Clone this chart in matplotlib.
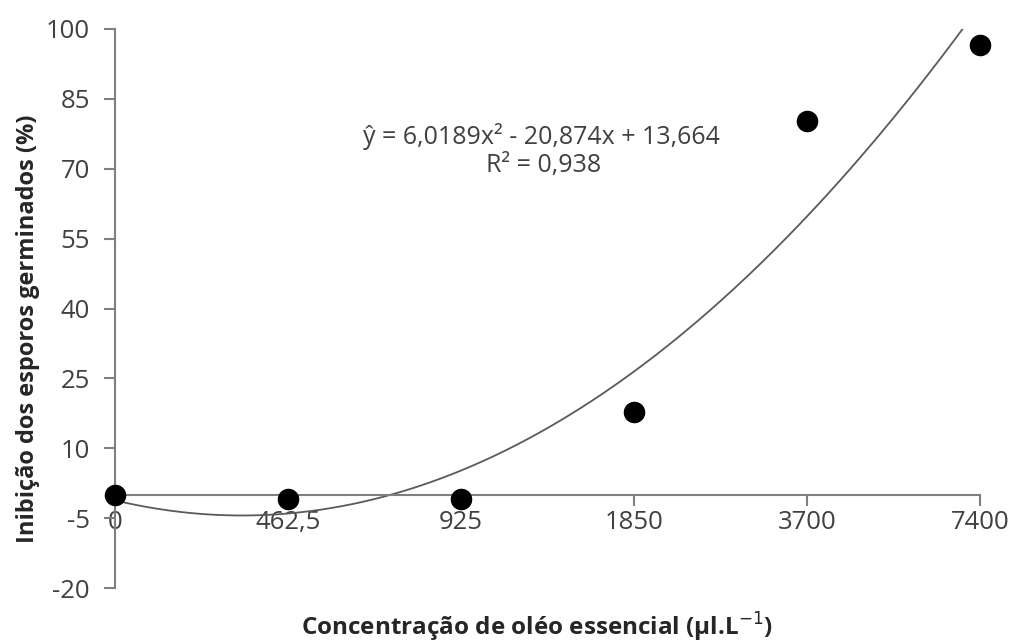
import numpy as np
import matplotlib
matplotlib.use("Agg")
import matplotlib.pyplot as plt

plt.rcParams['font.family'] = ['Open Sans', 'DejaVu Sans']

# Concentration levels (categorical axis) and mean inhibition of germinated spores
concentrations = ["0", "462,5", "925", "1850", "3700", "7400"]
inhibition = [0.0, -1.0, -1.0, 17.8, 80.3, 96.6]

# Quadratic trendline coefficients (x = category index 1..6)
coef_a, coef_b, coef_c = 6.0189, -20.874, 13.664
r_squared_label = "R² = 0,938"
equation_label = "ŷ = 6,0189x² - 20,874x + 13,664"

y_ticks = [-20, -5, 10, 25, 40, 55, 70, 85, 100]

W, H = 1013, 643
fig = plt.figure(figsize=(W / 100, H / 100), dpi=100)
ax = fig.add_axes([115 / W, 1 - 588 / H, (980 - 115) / W, (588 - 29) / H])

xpos = np.arange(1, len(concentrations) + 1)

# trendline
xs = np.linspace(1, 6, 400)
ys = coef_a * xs ** 2 + coef_b * xs + coef_c
ax.plot(xs, ys, color="#5a5a5a", lw=1.3, zorder=2)

# observed means
ax.plot(xpos, inhibition, "o", color="black", ms=14.5, zorder=3, clip_on=False)

ax.set_xlim(1, 6)
ax.set_ylim(-20, 100)
ax.set_yticks(y_ticks)
ax.set_yticklabels([str(v) for v in y_ticks])

# x axis drawn at y = 0
for s in ("top", "right"):
    ax.spines[s].set_visible(False)
ax.spines["bottom"].set_position(("data", 0))
axis_color = "#7f7f7f"
for s in ("left", "bottom"):
    ax.spines[s].set_color(axis_color)
    ax.spines[s].set_linewidth(1.5)

ax.set_xticks(xpos)
ax.set_xticklabels(concentrations)
ax.tick_params(axis="both", direction="out", length=8, width=1.5, color=axis_color,
               labelsize=18.5, labelcolor="#404040")
ax.tick_params(axis="y", pad=10)
ax.tick_params(axis="x", pad=3)

fig.text(541 / W, 1 - 136 / H, equation_label, ha="center", va="center",
         fontsize=18, color="#404040")
fig.text(544 / W, 1 - 166 / H, r_squared_label, ha="center", va="center",
         fontsize=18, color="#404040")

fig.text(537 / W, 1 - 627 / H, "Concentração de oléo essencial (μl.L$^{-1}$)",
         ha="center", va="center", fontsize=17.5, fontweight="bold", color="#262626")
fig.text(28 / W, 1 - 329 / H, "Inibição dos esporos germinados (%)",
         ha="center", va="center", rotation=90, fontsize=17, fontweight="bold",
         color="#262626")

fig.savefig("out.png", dpi=100, facecolor="white")
